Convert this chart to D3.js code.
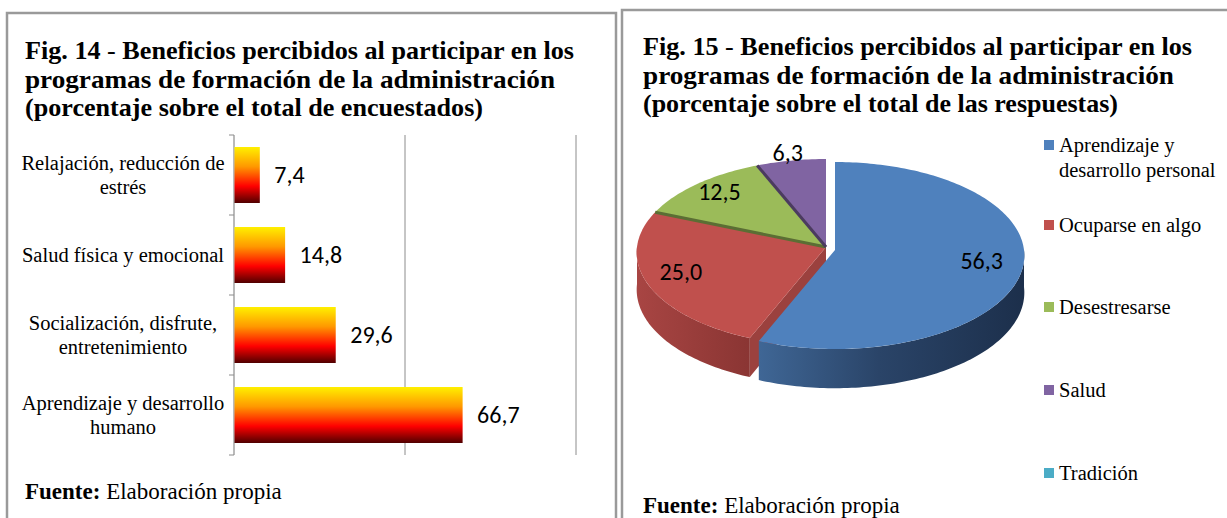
<!DOCTYPE html>
<html>
<head>
<meta charset="utf-8">
<script src="https://cdn.jsdelivr.net/npm/d3@7"></script>
<style>
  body { margin: 0; background: #fff; }
  svg { display: block; }
  .serif { font-family: "Liberation Serif", "Times New Roman", serif; }
  .calib { font-family: Carlito, Lato, sans-serif; }
</style>
</head>
<body>
<script>
// ---- data ----
const barCategories = ["Relajación, reducción de|estrés", "Salud física y emocional", "Socialización, disfrute,|entretenimiento", "Aprendizaje y desarrollo|humano"];
const barValues = [7.4, 14.8, 29.6, 66.7];
const barTicks = [0, 50, 100];

const pieCategories = ["Aprendizaje y|desarrollo personal", "Ocuparse en algo", "Desestresarse", "Salud", "Tradición"];
const pieValues = [56.3, 25.0, 12.5, 6.3, 0];
const pieColors = ["#4F81BD", "#C0504D", "#9BBB59", "#8064A2", "#4BACC6"];

const titleLeft = ["Fig. 14|- |Beneficios percibidos  al participar  en los", "programas de formación de la administración", "(porcentaje sobre el total de encuestados)"];
const titleRight = ["Fig. 15|- |Beneficios percibidos  al participar  en los", "programas de formación de la administración", "(porcentaje sobre el total de las respuestas)"];

const fmt = v => d3.format(".1f")(v).replace(".", ",");

const W = 1227, H = 518;
const svg = d3.select("body").append("svg").attr("width", W).attr("height", H);

// frames
svg.append("path").attr("d", "M7,518 V13 H616 V518").attr("fill", "none").attr("stroke", "#9a9a9a").attr("stroke-width", 2.5);
svg.append("path").attr("d", "M622,518 V10 H1227").attr("fill", "none").attr("stroke", "#9a9a9a").attr("stroke-width", 2.5);

function drawTitle(lines, x, y0, widths) {
  lines.forEach((ln, i) => {
    const t = svg.append("text").attr("class", "serif").attr("x", x).attr("y", y0 + i * 28.5)
      .attr("font-size", 25).attr("font-weight", "bold").attr("fill", "#000")
      .attr("textLength", widths[i]).attr("lengthAdjust", "spacingAndGlyphs");
    const parts = ln.split("|");
    if (parts.length === 3) {
      t.append("tspan").text(parts[0] + " ");
      t.append("tspan").attr("font-weight", "normal").text(parts[1]);
      t.append("tspan").text(parts[2]);
    } else t.text(ln);
  });
}
drawTitle(titleLeft, 25, 59, [549, 530, 458]);
drawTitle(titleRight, 643, 55, [549, 531, 475]);

function drawSource(x, y) {
  const t = svg.append("text").attr("class", "serif").attr("x", x).attr("y", y).attr("font-size", 23).attr("fill", "#000");
  t.append("tspan").attr("font-weight", "bold").text("Fuente:");
  t.append("tspan").text(" Elaboración propia");
}
drawSource(25, 499);
drawSource(643, 513);

// ---- bar chart ----
const x = d3.scaleLinear().domain([0, 100]).range([234, 576]);
const y = d3.scaleBand().domain(barCategories).range([135, 455]).paddingInner(0.3).paddingOuter(0.15);

const defs = svg.append("defs");
const bg = defs.append("linearGradient").attr("id", "barGrad").attr("x1", 0).attr("y1", 0).attr("x2", 0).attr("y2", 1);
[[0, "#FFF000"], [0.35, "#FF9800"], [0.7, "#FF0000"], [1, "#500000"]].forEach(s =>
  bg.append("stop").attr("offset", s[0]).attr("stop-color", s[1]));

const gBar = svg.append("g");
gBar.selectAll("line.grid").data(barTicks.slice(1)).join("line")
  .attr("x1", d => x(d)).attr("x2", d => x(d)).attr("y1", 135).attr("y2", 455)
  .attr("stroke", "#8c8c8c").attr("stroke-width", 1);
gBar.append("line").attr("x1", x(0)).attr("x2", x(0)).attr("y1", 135).attr("y2", 455).attr("stroke", "#8c8c8c").attr("stroke-width", 1.2);
const tickYs = barCategories.map(c => y(c) - y.step() * y.paddingInner() / 2).concat([455]);
gBar.selectAll("line.tk").data(tickYs).join("line")
  .attr("x1", x(0) - 5).attr("x2", x(0)).attr("y1", d => d).attr("y2", d => d)
  .attr("stroke", "#8c8c8c");

gBar.selectAll("rect").data(barValues).join("rect")
  .attr("x", x(0) + 0.5).attr("y", (d, i) => y(barCategories[i]))
  .attr("width", d => x(d) - x(0)).attr("height", y.bandwidth())
  .attr("fill", "url(#barGrad)");

gBar.selectAll("text.val").data(barValues).join("text").attr("class", "calib")
  .attr("x", d => x(d) + 15).attr("y", (d, i) => y(barCategories[i]) + y.bandwidth() / 2 + 8)
  .attr("font-size", 24).attr("fill", "#000").text(d => fmt(d));

barCategories.forEach(c => {
  const lines = c.split("|");
  const cy = y(c) + y.bandwidth() / 2;
  lines.forEach((ln, j) => {
    svg.append("text").attr("class", "serif").attr("x", 123).attr("text-anchor", "middle")
      .attr("y", cy + (j - (lines.length - 1) / 2) * 24 + 7)
      .attr("font-size", 20.5).attr("fill", "#000").text(ln);
  });
});

// ---- 3D pie (slight perspective) ----
const pcx = 826, pcy = 247, rx = 189, ry = 93.5, depth = 37, persp = 0.059;
const explode = [[9, 3], [0, 0], [0, 0], [0, 0], [0, 0]];
const arcs = d3.pie().sort(null).value(d => d)(pieValues);

const pt = (a, i, dz = 0, f = 1) => {
  const s = 1 - persp * Math.cos(a) * f;
  return [pcx + explode[i][0] + f * rx * Math.sin(a) * s, pcy + explode[i][1] - f * ry * Math.cos(a) * s + dz * s];
};
const ctr = (i, dz = 0) => [pcx + explode[i][0], pcy + explode[i][1] + dz];
function arcPts(a0, a1, i, dz) {
  const n = Math.max(2, Math.ceil((a1 - a0) / 0.02));
  return d3.range(n + 1).map(k => pt(a0 + (a1 - a0) * k / n, i, dz));
}
const line = d3.line();

const side = [
  { id: "sideBlue", stops: [[0, "#3F6695"], [0.45, "#2A4468"], [1, "#1C2F4B"]], x0: 760, x1: 1025 },
  { id: "sideRed", stops: [[0, "#A84543"], [1, "#8A3533"]], x0: 637, x1: 750 }
];
side.forEach(s => {
  const g = defs.append("linearGradient").attr("id", s.id).attr("gradientUnits", "userSpaceOnUse")
    .attr("x1", s.x0).attr("x2", s.x1).attr("y1", 0).attr("y2", 0);
  s.stops.forEach(st => g.append("stop").attr("offset", st[0]).attr("stop-color", st[1]));
});
const sideFill = ["url(#sideBlue)", "url(#sideRed)", "#7d9a45", "#66507f", "#3b8ea3"];

const gPie = svg.append("g");
// radial cut faces next to the exploded slice
arcs.forEach((d, i) => {
  if (d.value === 0 || i === 0) return;
  if (explode[i - 1][0] === explode[i][0]) return;
  const nrm = d.startAngle - Math.PI / 2;
  if (Math.cos(nrm) < 0) {
    const p = [ctr(i), pt(d.startAngle, i), pt(d.startAngle, i, depth), ctr(i, depth)];
    gPie.append("path").attr("d", line(p) + "Z").attr("fill", d3.color(pieColors[i]).darker(0.6));
  }
});
// outer side walls (front half)
arcs.forEach((d, i) => {
  if (d.value === 0) return;
  const a0 = Math.max(d.startAngle, Math.PI / 2), a1 = Math.min(d.endAngle, 3 * Math.PI / 2);
  if (a1 <= a0) return;
  const p = arcPts(a0, a1, i, 0).concat(arcPts(a0, a1, i, depth).reverse());
  gPie.append("path").attr("d", line(p) + "Z").attr("fill", sideFill[i]);
});
// top faces
arcs.forEach((d, i) => {
  if (d.value === 0) return;
  const p = [ctr(i)].concat(arcPts(d.startAngle, d.endAngle, i, 0));
  gPie.append("path").attr("d", line(p) + "Z").attr("fill", pieColors[i]);
});
// dark seam at the start edge of non-exploded neighbours
arcs.forEach((d, i) => {
  if (d.value === 0 || i === 0) return;
  if (explode[i - 1][0] !== explode[i][0]) return;
  gPie.append("path").attr("d", line([ctr(i), pt(d.startAngle, i)]))
    .attr("stroke", d3.color(pieColors[i]).darker(1.5)).attr("stroke-width", 3);
});
// labels
arcs.forEach((d, i) => {
  if (d.value === 0) return;
  const mid = (d.startAngle + d.endAngle) / 2;
  const small = d.value < 10;
  const p = pt(mid, i, 0, small ? 1.1 : 0.8);
  gPie.append("text").attr("class", "calib").attr("x", p[0] - (small ? 0 : 3)).attr("y", p[1] + (small ? 8 : 4))
    .attr("text-anchor", "middle").attr("font-size", 24).attr("fill", "#000").text(fmt(d.value));
});

// legend
const legY = [145, 225, 307, 390, 473];
pieCategories.forEach((c, i) => {
  svg.append("rect").attr("x", 1044).attr("y", legY[i] - 5).attr("width", 10).attr("height", 10).attr("fill", pieColors[i]);
  c.split("|").forEach((ln, j) => {
    svg.append("text").attr("class", "serif").attr("x", 1059).attr("y", legY[i] + 7 + j * 25)
      .attr("font-size", 20.5).attr("fill", "#000").text(ln);
  });
});
</script>
</body>
</html>
